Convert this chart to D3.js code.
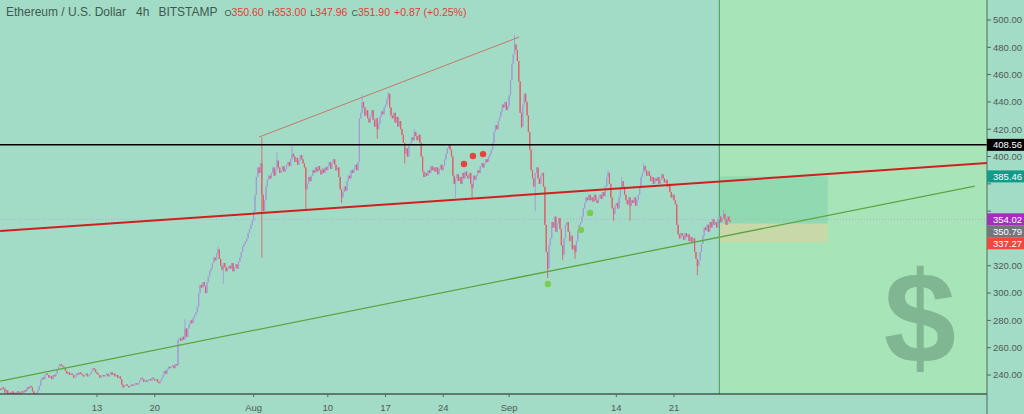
<!DOCTYPE html>
<html><head><meta charset="utf-8">
<script src="https://cdn.jsdelivr.net/npm/d3@7"></script>
<style>html,body{margin:0;padding:0;background:#a3dcc6;}svg{display:block;font-family:"Liberation Sans",Arial,sans-serif;}</style>
</head><body>
<script>
// ---- data (ETH/USD, BITSTAMP, 4h) ----
const startTime = Date.UTC(2020, 6, 1, 0); // first candle
const firstOpen = 228;
// closes per day, six 4h candles each (Jul 1 .. Sep 27)
const closesByDay = [
 [228,230,229,231,230,227],[229,226,227,225,228,226],[227,226,228,227,226,228],[227,229,228,231,230,232],
 [231,228,226,225,227,229],[232,236,238,237,240,241],[240,238,239,237,240,239],[241,244,246,248,247,246],
 [245,243,241,242,240,241],[240,238,239,241,240,242],[241,240,239,240,241,239],[240,241,243,245,244,242],
 [241,240,238,239,240,239],[240,241,239,240,242,240],[241,239,240,238,239,237],[233,231,232,233,232,231],
 [232,233,232,233,234,233],[234,236,238,237,235,236],[235,236,237,236,238,237],[236,237,235,234,236,238],
 [240,243,241,244,246,245],[246,247,245,248,247,266],[267,265,268,266,274,268],[274,277,280,278,282,284],
 [286,290,300,306,304,308],[305,300,308,312,316,318],[322,326,324,329,332,325],[320,317,322,319,316,318],
 [320,318,322,316,319,321],[318,323,326,330,334,336],[338,340,344,347,350,353],
 [360,372,385,392,388,395],[372,360,368,378,383,386],[384,388,392,386,390,397],[392,388,390,393,389,391],
 [394,396,393,398,402,400],[396,399,394,397,401,398],[395,392,376,380,385,382],[386,390,388,392,389,393],
 [390,387,391,388,392,390],[393,396,391,395,398,394],[390,392,385,376,370,374],[378,375,382,386,384,390],
 [388,391,394,390,396,428],[432,440,436,430,434,428],[425,430,434,427,422,428],[420,424,429,433,431,436],
 [438,442,446,436,430,428],[432,425,429,422,426,420],[416,410,402,406,400,408],[410,414,412,418,415,412],
 [416,410,400,389,385,388],[386,390,388,393,390,392],[389,392,387,391,394,390],[393,398,402,406,409,405],
 [400,386,380,384,387,382],[385,380,388,384,389,386],[384,388,380,377,386,383],[386,390,388,393,395,392],
 [395,398,396,400,402,405],[410,418,423,420,426,429],[433,438,436,440,434,437],
 [445,456,468,475,482,478],[470,455,432,422,438,446],[440,430,418,405,390,384],[378,388,392,384,380,386],
 [388,378,350,330,318,335],[340,352,348,356,345,351],[355,347,335,328,340,350],[352,345,338,342,332,335],
 [330,338,346,350,352,356],[362,366,370,368,372,368],[370,367,372,368,366,370],[372,369,374,371,378,385],
 [388,380,370,362,358,364],[366,362,370,376,382,378],[372,368,365,370,364,368],[366,370,364,368,372,378],
 [385,388,393,390,386,389],[386,382,385,380,384,382],[385,380,383,387,384,381],[383,378,380,374,370,372],
 [368,365,350,343,340,344],[342,339,344,341,343,338],[341,337,340,330,325,320],[324,330,336,342,348,346],
 [350,345,352,348,354,350],[352,348,354,356,352,355],[358,354,350,356,353,352]
];
// notable wicks: [candle time (UTC), high, low]
const wicks = [
 ["2020-07-23T16:00Z",281,null],["2020-07-27T16:00Z",334,null],["2020-07-28T08:00Z",null,307],
 ["2020-08-02T00:00Z",414,326],["2020-08-03T20:00Z",403,null],["2020-08-05T16:00Z",408,null],
 ["2020-08-07T08:00Z",null,361],["2020-08-11T16:00Z",null,366],["2020-08-14T04:00Z",445,null],
 ["2020-08-16T00:00Z",null,413],["2020-08-17T08:00Z",447,null],["2020-08-19T08:00Z",null,395],
 ["2020-08-20T12:00Z",420,null],["2020-08-25T12:00Z",null,370],["2020-08-27T12:00Z",null,370],
 ["2020-09-01T16:00Z",489,null],["2020-09-02T12:00Z",null,421],["2020-09-04T04:00Z",null,360],
 ["2020-09-05T16:00Z",null,311],["2020-09-07T12:00Z",null,324],["2020-09-09T00:00Z",null,325],
 ["2020-09-13T00:00Z",390,null],["2020-09-13T16:00Z",null,353],["2020-09-14T16:00Z",385,null],
 ["2020-09-15T16:00Z",null,353],["2020-09-17T08:00Z",395,null],["2020-09-23T20:00Z",null,313],
 ["2020-09-27T00:00Z",361,null]
];
const priceTicks = [240,260,280,300,320,340,360,380,400,420,440,460,480,500];
const dateTicks = ["2020-07-13","2020-07-20","2020-08-01","2020-08-10","2020-08-17","2020-08-24","2020-09-01","2020-09-14","2020-09-21"];
const dateTickLabels = ["13","20","Aug","10","17","24","Sep","14","21"];
// drawings
const hLevel = 408.56;
const dottedLevel = 354.02;
const redTrend = [["2020-07-01T06:00Z",345.4],["2020-10-29T00:00Z",395.2]];
const greenTrend = [["2020-07-01T06:00Z",235.5],["2020-10-27T12:00Z",378.4]];
const wedgeTop = [["2020-08-01T16:00Z",414.3],["2020-09-02T05:00Z",487.5]];
const redDots = [["2020-08-26T12:30Z",394.5],["2020-08-27T14:30Z",400.4],["2020-08-28T20:00Z",401.8]];
const greenDots = [["2020-09-05T17:00Z",306.6],["2020-09-09T17:00Z",346.2],["2020-09-10T19:30Z",358.6]];
const futureStart = "2020-09-26T12:00Z";
const position = {start:"2020-09-26T12:00Z", end:"2020-10-09T16:00Z", target:385.46, entry:350.79, stop:337.27};
const dollarAnchor = ["2020-10-20T20:00Z", 280];
const priceLabels = [
 {v:408.56, bg:"#000000"},{v:385.46, bg:"#129a8b"},{v:354.02, bg:"#a42fbd"},
 {v:350.79, bg:"#73767c"},{v:337.27, bg:"#f2473d"}
];
const header = {name:"Ethereum / U.S. Dollar", tf:"4h", ex:"BITSTAMP", o:"350.60", h:"353.00", l:"347.96", c:"351.90", chg:"+0.87 (+0.25%)"};

// ---- build ----
const W = 1024, H = 414, plotR = 987, plotB = 394;
const x = d3.scaleUtc().domain([Date.UTC(2020,6,13), Date.UTC(2020,8,21)]).range([97,674]);
const y = d3.scaleLinear().domain([240,500]).range([375,20]);
const T = s => new Date(s);

const closes = closesByDay.flat();
const candles = closes.map((c,i) => {
  const o = i === 0 ? firstOpen : closes[i-1];
  return {t: new Date(startTime + i*4*3600*1000), o, c, h: Math.max(o,c), l: Math.min(o,c)};
});
const byTime = new Map(candles.map(d => [d.t.getTime(), d]));
wicks.forEach(([s,hi,lo]) => { const d = byTime.get(T(s).getTime()); if (!d) return; if (hi!=null) d.h = Math.max(d.h,hi); if (lo!=null) d.l = Math.min(d.l,lo); });

const svg = d3.select("body").append("svg").attr("width",W).attr("height",H);
svg.append("rect").attr("width",W).attr("height",H).attr("fill","#a3dcc6");
// future region
svg.append("rect").attr("x",x(T(futureStart))).attr("y",0).attr("width",plotR - x(T(futureStart))).attr("height",plotB).attr("fill","#a7e5b8");

svg.append("defs").append("clipPath").attr("id","pc").append("rect").attr("x",0).attr("y",0).attr("width",plotR).attr("height",plotB);
const g = svg.append("g").attr("clip-path","url(#pc)");

// position box
const px0 = x(T(position.start)), px1 = x(T(position.end));
g.append("rect").attr("x",px0).attr("y",y(position.target)).attr("width",px1-px0).attr("height",y(position.entry)-y(position.target)).attr("fill","#8fd8b0").attr("opacity",0.9);
g.append("rect").attr("x",px0).attr("y",y(position.entry)).attr("width",px1-px0).attr("height",y(position.stop)-y(position.entry)).attr("fill","#c7d9a8");

// dollar sign
g.append("text").attr("x",x(T(dollarAnchor[0]))).attr("y",y(dollarAnchor[1])+42).attr("text-anchor","middle")
 .attr("font-family","Liberation Sans, Arial, sans-serif").attr("font-weight","bold").attr("font-size",130).attr("fill","#80b792").text("$");

// dotted level
g.append("line").attr("x1",0).attr("x2",plotR).attr("y1",y(dottedLevel)).attr("y2",y(dottedLevel)).attr("stroke","#b7a6d2").attr("stroke-width",1).attr("stroke-dasharray","1,2");

// vertical divider
g.append("line").attr("x1",x(T(futureStart))).attr("x2",x(T(futureStart))).attr("y1",0).attr("y2",plotB).attr("stroke","#4e9b5c").attr("stroke-width",1);

// candles
const upC = "#a39ad8", dnC = "#e05f6a";
const cg = g.append("g");
cg.selectAll("line.w").data(candles).join("line").attr("class","w")
 .attr("x1",d=>x(d.t)).attr("x2",d=>x(d.t)).attr("y1",d=>y(d.h)).attr("y2",d=>y(d.l))
 .attr("stroke",d=>d.c>=d.o?upC:dnC).attr("stroke-width",0.9);
cg.selectAll("rect.b").data(candles).join("rect").attr("class","b")
 .attr("x",d=>x(d.t)-0.6).attr("width",1.2)
 .attr("y",d=>y(Math.max(d.o,d.c))).attr("height",d=>Math.max(1,Math.abs(y(d.o)-y(d.c))))
 .attr("fill",d=>d.c>=d.o?upC:dnC);

// horizontal level
g.append("line").attr("x1",0).attr("x2",plotR).attr("y1",y(hLevel)).attr("y2",y(hLevel)).attr("stroke","#000").attr("stroke-width",1.5);

const line = d3.line().x(d=>x(T(d[0]))).y(d=>y(d[1]));
g.append("path").attr("d",line(wedgeTop)).attr("stroke","#c27a68").attr("stroke-width",1).attr("fill","none");
g.append("path").attr("d",line(greenTrend)).attr("stroke","#5fa442").attr("stroke-width",1.3).attr("fill","none");
g.append("path").attr("d",line(redTrend)).attr("stroke","#d11f1f").attr("stroke-width",2).attr("fill","none");

g.selectAll("circle.r").data(redDots).join("circle").attr("class","r").attr("cx",d=>x(T(d[0]))).attr("cy",d=>y(d[1])).attr("r",3.2).attr("fill","#e8443b");
g.selectAll("circle.g").data(greenDots).join("circle").attr("class","g").attr("cx",d=>x(T(d[0]))).attr("cy",d=>y(d[1])).attr("r",3.2).attr("fill","#7bcc52");

// axes frame
svg.append("line").attr("x1",0).attr("x2",plotR).attr("y1",plotB).attr("y2",plotB).attr("stroke","#1a1a1a").attr("stroke-width",1.2);
svg.append("line").attr("x1",plotR).attr("x2",plotR).attr("y1",0).attr("y2",H).attr("stroke","#4c6b5e").attr("stroke-width",1);

// price labels with collision avoidance
const labs = priceLabels.map(d => ({...d, yy: y(d.v)})).sort((a,b)=>a.yy-b.yy);
for (let i=1;i<labs.length;i++){ if (labs[i].yy - labs[i-1].yy < 12) labs[i].yy = labs[i-1].yy + 12; }

// price axis (tick texts hidden where a price label covers them)
const ya = svg.append("g");
priceTicks.forEach(v => {
  const yy = y(v);
  ya.append("line").attr("x1",plotR).attr("x2",plotR+4).attr("y1",yy).attr("y2",yy).attr("stroke","#4c6b5e");
  if (labs.some(l => Math.abs(l.yy - yy) < 11)) return;
  ya.append("text").attr("x",993).attr("y",yy).attr("dy","0.35em").attr("font-size",9.5).attr("fill","#4f5a56").text(v.toFixed(2));
});
// date axis
dateTicks.forEach((s,i) => {
  const xx = x(new Date(s+"T00:00Z"));
  svg.append("line").attr("x1",xx).attr("x2",xx).attr("y1",plotB).attr("y2",plotB+3).attr("stroke","#4c6b5e");
  svg.append("text").attr("x",xx).attr("y",408).attr("dy","0.35em").attr("text-anchor","middle").attr("font-size",9.5).attr("fill","#4f5a56").text(dateTickLabels[i]);
});

labs.forEach(d => {
  svg.append("rect").attr("x",plotR).attr("y",d.yy-6).attr("width",W-plotR).attr("height",12).attr("fill",d.bg);
  svg.append("text").attr("x",993).attr("y",d.yy).attr("dy","0.35em").attr("font-size",9.5).attr("fill","#fff").text(d.v.toFixed(2));
});

// header
const ht = svg.append("text").attr("x",6).attr("y",16).attr("font-size",12).attr("fill","#3e5a50");
ht.append("tspan").text(header.name);
ht.append("tspan").attr("dx",10).text(header.tf);
ht.append("tspan").attr("dx",9).text(header.ex);
[["O",header.o],["H",header.h],["L",header.l],["C",header.c]].forEach(([k,v],i) => {
  ht.append("tspan").attr("dx", i===0?7:4).attr("font-size",9).text(k);
  ht.append("tspan").attr("font-size",10.5).attr("fill","#e33b35").text(v);
});
ht.append("tspan").attr("dx",4).attr("font-size",10.5).attr("fill","#e33b35").text(header.chg);
</script>
</body></html>
